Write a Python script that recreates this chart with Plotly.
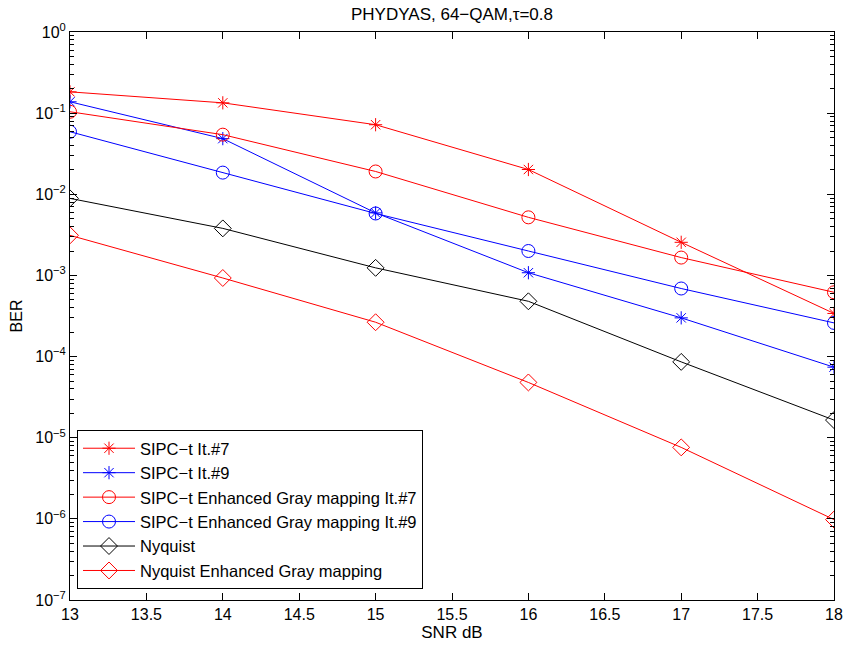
import plotly.graph_objects as go

snr = [13, 14, 15, 16, 17, 18]

sipc_it7 = [0.183, 0.134, 0.072, 0.0202, 0.00256, 3.4e-4]
sipc_it9 = [0.138, 0.0485, 0.0059, 1.08e-3, 3.0e-4, 7.4e-5]
sipc_egm_it7 = [0.104, 0.0543, 0.0191, 0.0052, 0.00166, 6.2e-4]
sipc_egm_it9 = [0.059, 0.0185, 0.0058, 0.0020, 6.9e-4, 2.6e-4]
nyquist = [0.0089, 0.0038, 0.00124, 4.8e-4, 8.6e-5, 1.65e-5]
nyquist_egm = [0.00312, 9.3e-4, 2.65e-4, 4.8e-5, 7.6e-6, 9.8e-7]

names = ["SIPC\u2212t It.#7", "SIPC\u2212t It.#9",
         "SIPC\u2212t Enhanced Gray mapping It.#7",
         "SIPC\u2212t Enhanced Gray mapping It.#9",
         "Nyquist", "Nyquist Enhanced Gray mapping"]
series = [sipc_it7, sipc_it9, sipc_egm_it7, sipc_egm_it9, nyquist, nyquist_egm]
colors = ["#ff0000", "#0000ff", "#ff0000", "#0000ff", "#000000", "#ff0000"]
symbols = ["asterisk-open", "asterisk-open", "circle-open", "circle-open",
           "diamond-open", "diamond-open"]
sizes = [11, 11, 13, 13, 13, 13]

fig = go.Figure()
for n, s, c, m, sz in zip(names, series, colors, symbols, sizes):
    fig.add_trace(go.Scatter(
        x=snr, y=s, name=n, mode="lines+markers",
        line=dict(color=c, width=1),
        marker=dict(symbol=m, size=sz, color=c, line=dict(color=c, width=1)),
    ))

x_ticks = [13, 13.5, 14, 14.5, 15, 15.5, 16, 16.5, 17, 17.5, 18]
y_exps = [0, -1, -2, -3, -4, -5, -6, -7]
y_tickvals = [10.0 ** e for e in y_exps]
y_ticktext = ["10<sup>%s</sup>" % (str(e).replace("-", "\u2212")) for e in y_exps]
minor_vals = [k * 10.0 ** e for e in range(-7, 0) for k in range(2, 10)]

W, H = 844, 645
L, R, T, B = 70, 10, 32, 45
fig.update_layout(
    width=W, height=H,
    paper_bgcolor="white", plot_bgcolor="white",
    margin=dict(l=L, r=R, t=T, b=B, autoexpand=False),
    font=dict(family="Liberation Sans, Arial, sans-serif", size=16, color="black"),
    title=dict(text="PHYDYAS, 64\u2212QAM,\u03c4=0.8", x=0.5, xanchor="center",
               xref="paper", y=1 - 14.5 / H, yanchor="middle", font=dict(size=17)),
    showlegend=True,
    legend=dict(x=7 / (W - L - R), y=11 / (H - T - B), xanchor="left", yanchor="bottom",
                bgcolor="white", bordercolor="black", borderwidth=1,
                font=dict(size=16.5), tracegroupgap=0, itemwidth=52),
)
fig.update_xaxes(
    range=[13, 18], tickvals=x_ticks, ticktext=[("%g" % v) for v in x_ticks],
    showgrid=False, zeroline=False, showline=True, linecolor="black", linewidth=1,
    mirror="ticks", ticks="inside", ticklen=7, tickcolor="black", automargin=False,
    title=dict(text="SNR dB", standoff=2, font=dict(size=17)),
)
fig.update_yaxes(
    type="log", range=[-7, 0], tickvals=y_tickvals, ticktext=y_ticktext,
    showgrid=False, zeroline=False, showline=True, linecolor="black", linewidth=1,
    mirror="ticks", ticks="inside", ticklen=7, tickcolor="black", automargin=False,
    minor=dict(tickvals=minor_vals, ticks="inside", ticklen=4, tickcolor="black", showgrid=False),
    title=dict(text="BER", standoff=8, font=dict(size=16)),
)

fig.write_html("out.html", config={"displayModeBar": False},
               post_script="document.body.style.margin='0';document.body.style.overflow='hidden';")
